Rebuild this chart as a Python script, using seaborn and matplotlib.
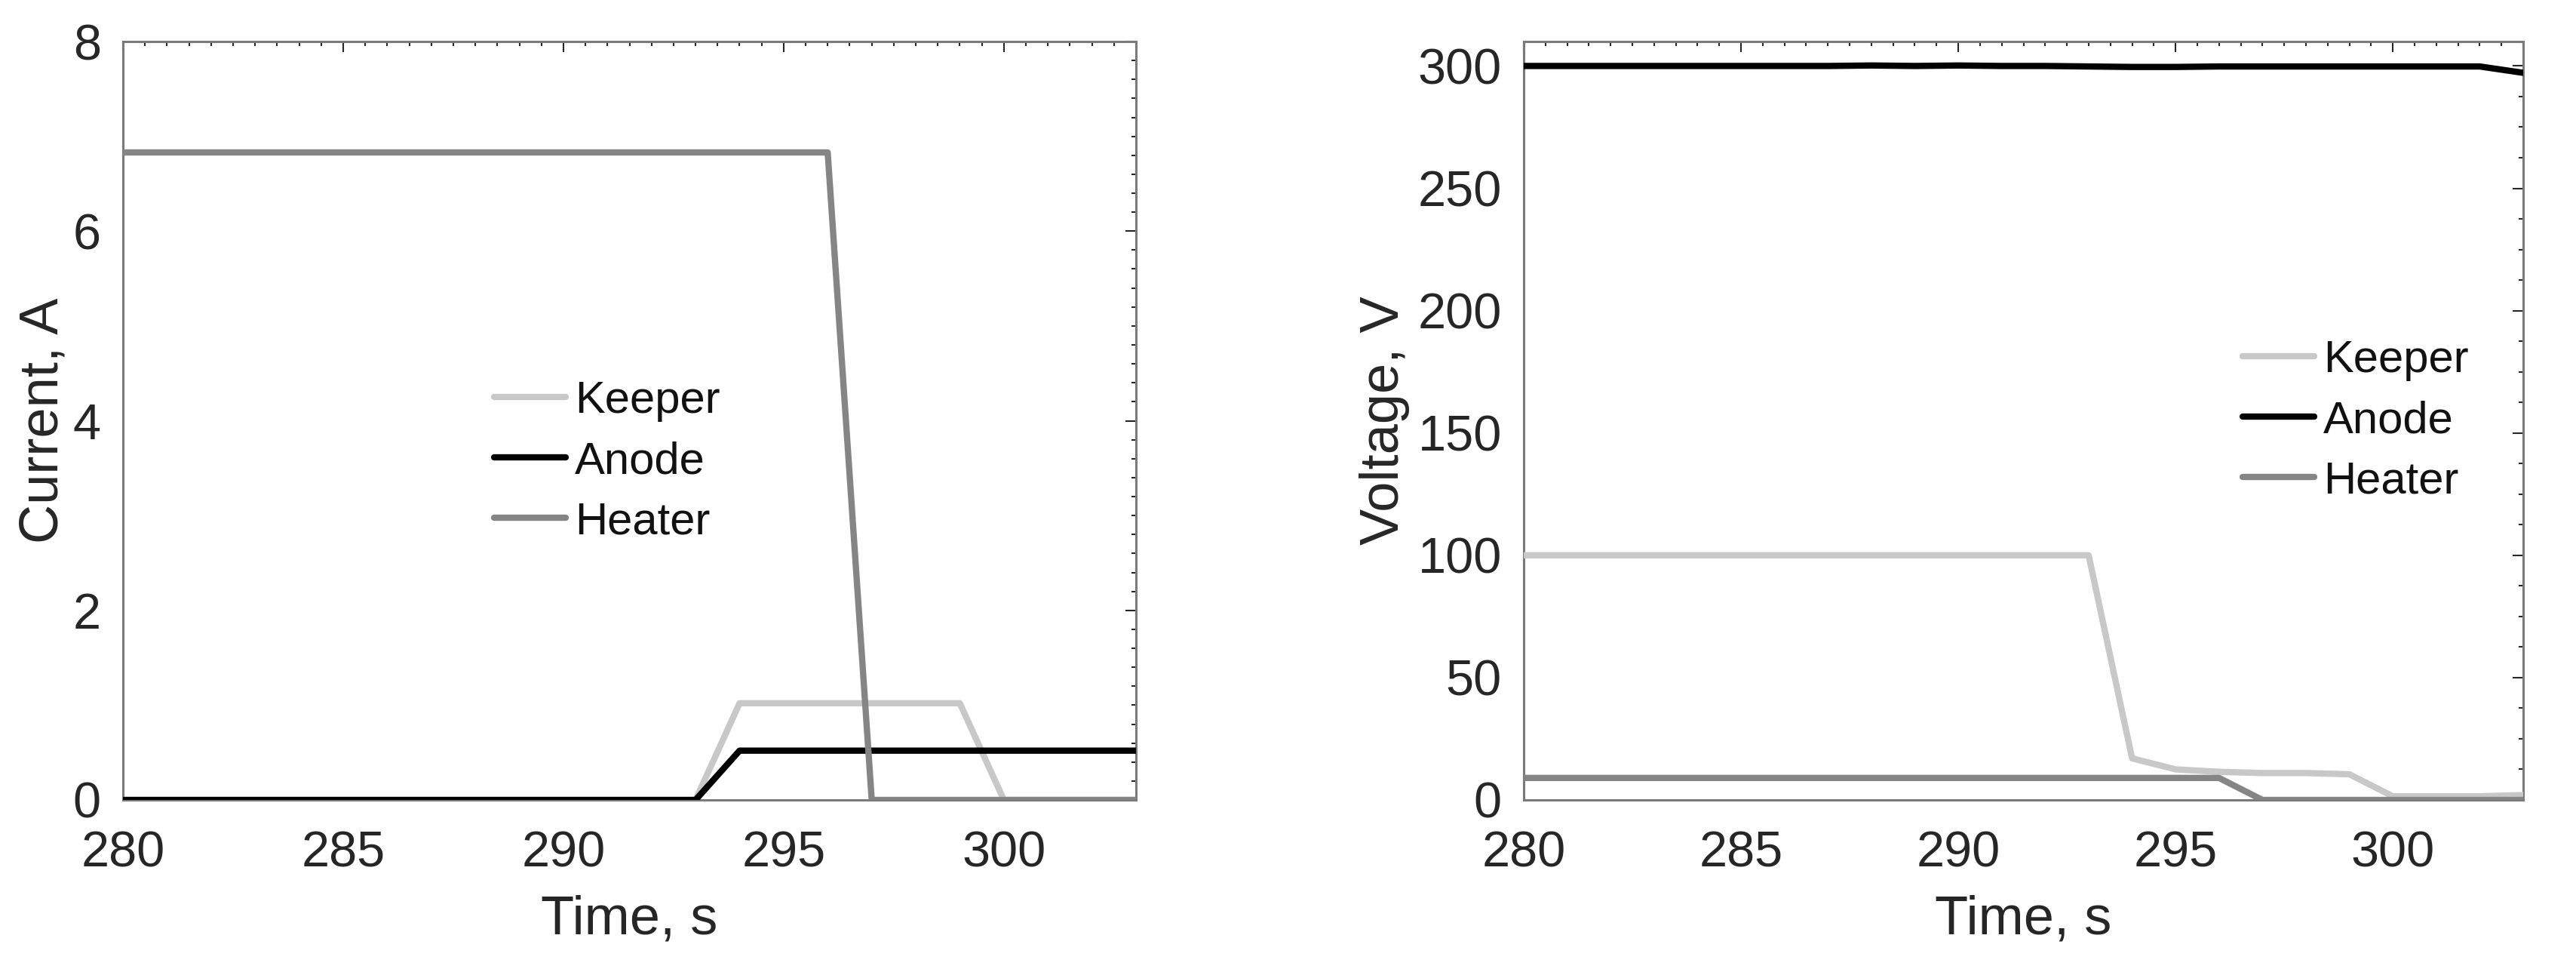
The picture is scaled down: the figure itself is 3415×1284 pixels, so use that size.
import numpy as np
import pandas as pd
import matplotlib
matplotlib.use("Agg")
import matplotlib.pyplot as plt
import seaborn as sns
from matplotlib.ticker import MultipleLocator

# === DATOS ===
time_s = [280, 281, 282, 283, 284, 285, 286, 287, 288, 289, 290, 291,
          292, 293, 294, 295, 296, 297, 298, 299, 300, 301, 302, 303]

current_keeper = [0, 0, 0, 0, 0, 0, 0, 0, 0, 0, 0, 0,
                  0, 0, 1.02, 1.02, 1.02, 1.02, 1.02, 1.02, 0, 0, 0, 0]
current_anode = [0, 0, 0, 0, 0, 0, 0, 0, 0, 0, 0, 0,
                 0, 0, 0.52, 0.52, 0.52, 0.52, 0.52, 0.52, 0.52, 0.52, 0.52, 0.52]
current_heater = [6.83, 6.83, 6.83, 6.83, 6.83, 6.83, 6.83, 6.83, 6.83, 6.83, 6.83, 6.83,
                  6.83, 6.83, 6.83, 6.83, 6.83, 0, 0, 0, 0, 0, 0, 0]

voltage_keeper = [100, 100, 100, 100, 100, 100, 100, 100, 100, 100, 100, 100,
                  100, 100, 17, 12.5, 11.5, 11, 11, 10.5, 1.5, 1.5, 1.5, 2]
voltage_anode = [300, 300, 300, 300, 300, 300, 300, 300, 300.2, 300, 300.2, 300,
                 300, 299.8, 299.6, 299.6, 299.8, 299.8, 299.8, 299.8, 299.8, 299.8, 299.8, 297.2]
voltage_heater = [9, 9, 9, 9, 9, 9, 9, 9, 9, 9, 9, 9,
                  9, 9, 9, 9, 9, 0, 0, 0, 0, 0, 0, 0]

series_names = ["Keeper", "Anode", "Heater"]
series_colors = {"Keeper": "#c8c8c8", "Anode": "#000000", "Heater": "#858585"}


def long_frame(keeper, anode, heater):
    parts = []
    for name, vals in zip(series_names, [keeper, anode, heater]):
        parts.append(pd.DataFrame({"Time": time_s, "Value": vals, "Source": name}))
    return pd.concat(parts, ignore_index=True)


# === ESTILO ===
sns.set_theme(style="white")
plt.rcParams["font.family"] = ["Liberation Sans", "DejaVu Sans"]
TICK_COLOR = "#262626"
SPINE_COLOR = "#7a7a7a"

fig = plt.figure(figsize=(34.15, 12.84), dpi=100)
W, H = 3415, 1284
bottom, top = 1060, 55
ax_left = fig.add_axes([163 / W, 1 - bottom / H, (1506 - 163) / W, (bottom - top) / H])
ax_right = fig.add_axes([2020 / W, 1 - bottom / H, (3345 - 2020) / W, (bottom - top) / H])


def style_panel(ax, ylim, ymajor, yminor, ylabel, ylabel_x, leg_anchor):
    ax.set_xlim(280, 303)
    ax.set_ylim(*ylim)
    ax.xaxis.set_major_locator(MultipleLocator(5))
    ax.xaxis.set_minor_locator(MultipleLocator(0.5))
    ax.yaxis.set_major_locator(MultipleLocator(ymajor))
    ax.yaxis.set_minor_locator(MultipleLocator(yminor))
    ax.tick_params(which="both", direction="in", top=True, right=True,
                   color=TICK_COLOR, width=1.5, labelcolor=TICK_COLOR,
                   labelsize=48)
    ax.tick_params(which="major", length=10)
    ax.tick_params(which="minor", length=4)
    ax.tick_params(axis="x", which="major", pad=29)
    ax.tick_params(axis="y", which="major", pad=21)
    for sp in ax.spines.values():
        sp.set_visible(True)
        sp.set_color(SPINE_COLOR)
        sp.set_linewidth(2.2)
    ax.set_xlabel("Time, s", fontsize=52, color=TICK_COLOR)
    ax.set_ylabel(ylabel, fontsize=52, color=TICK_COLOR)
    ax.xaxis.set_label_coords(0.5, -0.125)
    ax.yaxis.set_label_coords(ylabel_x, 0.5)

    handles, labels = ax.get_legend_handles_labels()
    leg = ax.legend(handles, labels, loc="center left", bbox_to_anchor=leg_anchor,
                    frameon=False, fontsize=43, borderpad=0, borderaxespad=0,
                    handlelength=1.6, handletextpad=0.2, labelspacing=0.42)
    for line in leg.get_lines():
        line.set_linewidth(6)
    for txt in leg.get_texts():
        txt.set_color("#111111")


# === PANEL IZQUIERDO: CORRIENTE ===
df_current = long_frame(current_keeper, current_anode, current_heater)
sns.lineplot(data=df_current, x="Time", y="Value", hue="Source",
             hue_order=series_names, palette=series_colors, estimator=None,
             linewidth=6, ax=ax_left, zorder=3)
style_panel(ax_left, (0, 8), 2, 0.2, "Current, A", -0.053, (0.366, 0.446))

# === PANEL DERECHO: VOLTAJE ===
df_voltage = long_frame(voltage_keeper, voltage_anode, voltage_heater)
sns.lineplot(data=df_voltage, x="Time", y="Value", hue="Source",
             hue_order=series_names, palette=series_colors, estimator=None,
             linewidth=6, ax=ax_right, zorder=3)
style_panel(ax_right, (0, 310), 50, 12.5, "Voltage, V", -0.114, (0.719, 0.5))

fig.savefig("out.png", dpi=100, facecolor="white")
